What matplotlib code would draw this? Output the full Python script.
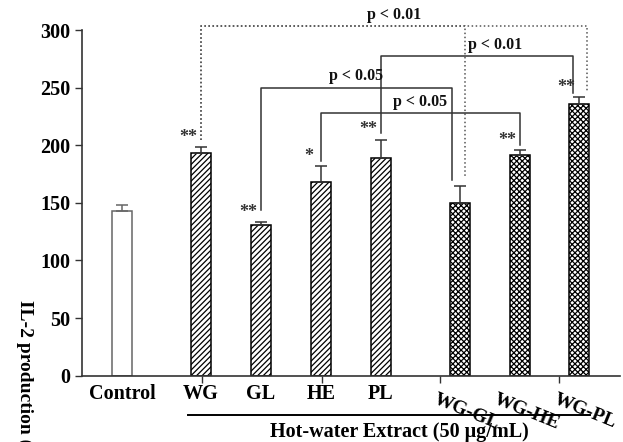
import numpy as np
import matplotlib.pyplot as plt

plt.rcParams['font.family'] = ['Liberation Serif', 'DejaVu Serif']
plt.rcParams['font.weight'] = 'bold'
plt.rcParams['hatch.linewidth'] = 0.9
plt.rcParams['hatch.color'] = 'black'

# data
groups = ['Control', 'WG', 'GL', 'HE', 'PL', 'WG-GL', 'WG-HE', 'WG-PL']
il2 = [143, 193, 131, 168, 189, 150, 191.5, 235.5]
sem = [5, 5.5, 2.7, 13.7, 16, 14.5, 4, 6]
stars = ['', '**', '**', '*', '**', '', '**', '**']
yticks = [0, 50, 100, 150, 200, 250, 300]
ylabel = 'IL-2 production (pg/mL)'
extract_label = 'Hot-water Extract (50 \u03bcg/mL)'

# comparisons: left bar, right bar, bracket height, left leg end, right leg end, label
cmp_left = [1, 1, 4, 2, 3]
cmp_right = [7, 5, 7, 5, 6]
cmp_height = [303.5, 303.5, 277.5, 250, 228]
cmp_left_end = [204.5, 204.5, 211, 144, 186]
cmp_right_end = [247.5, 172.5, 245, 170, 200]
cmp_label = ['p < 0.01', '', 'p < 0.01', 'p < 0.05', 'p < 0.05']
cmp_dotted = [True, True, False, False, False]

# layout
xpos = np.array([0, 1.317, 2.317, 3.317, 4.317, 5.633, 6.633, 7.617])
width = 0.335
right_shift = [0.13, 0.09, -0.1, -0.13, 0.0]
label_shift = [0.0, 0.0, 0.3, 0.0, 0.0]

fig = plt.figure(figsize=(6.23, 4.42), dpi=100)
ax = fig.add_axes([0.1316, 0.15, 0.8634, 0.782])

styles = [('white', '#666666', None)] + [('white', 'black', '//////')] * 4 + [('white', 'black', 'xxxxxx')] * 3
for x, v, (fc, ec, h) in zip(xpos, il2, styles):
    ax.bar(x, v, width=width, color=fc, edgecolor=ec, hatch=h, linewidth=1.1, zorder=2)

ecolors = ['#666666'] + ['#333333'] * 7
for x, v, e, c in zip(xpos, il2, sem, ecolors):
    ax.errorbar(x, v, yerr=[[0], [e]], fmt='none', ecolor=c, elinewidth=1.1,
                capsize=4.5, capthick=1.1, zorder=3)

for x, v, e, s in zip(xpos, il2, sem, stars):
    if s:
        ax.text(x - 0.21, v + e + 1, s, ha='center', va='bottom', fontsize=13,
                color='#333333', clip_on=False)

for i in range(len(cmp_left)):
    xl = xpos[cmp_left[i]]
    xr = xpos[cmp_right[i]] + right_shift[i]
    h = cmp_height[i]
    ls = ':' if cmp_dotted[i] else '-'
    col = '#555555' if cmp_dotted[i] else '#333333'
    ax.plot([xl, xl, xr, xr], [cmp_left_end[i], h, h, cmp_right_end[i]],
            ls=ls, color=col, lw=1.1, clip_on=False, zorder=1)
    if cmp_label[i]:
        ax.text((xl + xr) / 2 + label_shift[i], h + 3, cmp_label[i], ha='center',
                va='bottom', fontsize=11.5, color='#111111', clip_on=False)

ax.set_xlim(-0.667, 8.3)
ax.set_ylim(0, 300)
ax.set_yticks(yticks)
ax.set_yticklabels([str(t) for t in yticks], fontsize=14.5)
ax.set_xticks([1.328, 3.328, 5.3, 7.283])
ax.set_xticklabels([])
ax.tick_params(axis='both', length=5, width=1, color='#333333')
for side in ['top', 'right']:
    ax.spines[side].set_visible(False)
for side in ['left', 'bottom']:
    ax.spines[side].set_color('#333333')
    ax.spines[side].set_linewidth(1.2)

# category labels
for x, g in zip(xpos[:5], groups[:5]):
    ax.text(x, -0.025, g, transform=ax.get_xaxis_transform(), ha='center', va='top',
            fontsize=14.5, clip_on=False)
for x, g in zip(xpos[5:], groups[5:]):
    ax.text(x - 0.47, -0.045, g, transform=ax.get_xaxis_transform(), ha='left', va='top',
            fontsize=14, rotation=-22, clip_on=False)

ax.plot([1.1, 7.8], [-0.114, -0.114], transform=ax.get_xaxis_transform(),
        color='black', lw=1.4, clip_on=False)
ax.text(4.63, -0.162, extract_label, transform=ax.get_xaxis_transform(),
        ha='center', va='center', fontsize=14.5, clip_on=False)

fig.text(0.04, 1 - 300 / 442, ylabel, rotation=-90, ha='center', va='top', fontsize=14)

fig.savefig('out.png', dpi=100)
